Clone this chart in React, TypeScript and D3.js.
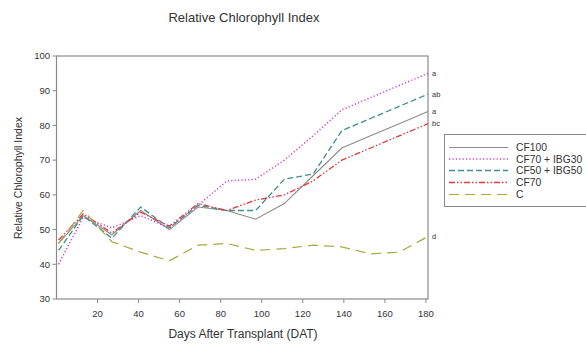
import React from "react";
import * as d3 from "d3";

const days = [1, 13, 27, 41, 55, 69, 83, 97, 111, 125, 139, 153, 167, 181];
const seriesNames = ["CF100", "CF70 + IBG30", "CF50 + IBG50", "CF70", "C"];
const cf100 = [46, 54, 48.5, 55.5, 50, 56.5, 55.5, 53, 57.5, 65.5, 73.5, 77, 80.5, 84];
const cf70ibg30 = [40, 53.5, 50.5, 54, 50.5, 57, 64, 64.5, 70, 77, 84.5, 88, 91.5, 95];
const cf50ibg50 = [44, 54, 47.5, 56.5, 50.5, 57, 55.5, 55.5, 64.5, 66, 78.5, 82, 85.5, 89];
const cf70 = [47, 54.5, 49, 55, 51, 57.5, 55.5, 58.5, 60, 64, 70, 73.5, 77, 80.5];
const control = [46, 55.5, 46.5, 43.5, 41, 45.5, 46, 44, 44.5, 45.5, 45, 43, 43.5, 48];
const letterLabels = ["a", "ab", "a", "bc", "d"];
const xTicks = [20, 40, 60, 80, 100, 120, 140, 160, 180];
const yTicks = [30, 40, 50, 60, 70, 80, 90, 100];

const styles = [
  { color: "#8c8c8c", dash: "none", w: 1.1 },
  { color: "#d040c8", dash: "1.2,2.2", w: 1.5 },
  { color: "#3f8f8f", dash: "6,3", w: 1.3 },
  { color: "#e03a3a", dash: "6,2,1.5,2,1.5,2", w: 1.3 },
  { color: "#a8a840", dash: "10,6", w: 1.2 },
];

export default function App() {
  const W = 586, H = 346;
  const x = d3.scaleLinear().domain([0, 181]).range([56.5, 428]);
  const y = d3.scaleLinear().domain([30, 100]).range([299, 56]);
  const data = [cf100, cf70ibg30, cf50ibg50, cf70, control];
  const line = d3.line<number>().x((_, i) => x(days[i])).y((v) => y(v));
  const font = "'Liberation Sans', Arial, sans-serif";
  const txt = "#333";
  const axisC = "#8a8a8a";
  const letterOrder = [1, 2, 0, 3, 4];
  const legendY = [147.5, 159, 170.5, 182.5, 194.5];

  return (
    <svg width={W} height={H} style={{ position: "absolute", left: 0, top: 0, background: "#fff" }} fontFamily={font}>
      <rect x={0} y={0} width={W} height={H} fill="#fff" />
      <text x={244} y={21.5} textAnchor="middle" fontSize={13} fill={txt}>Relative Chlorophyll Index</text>
      <rect x={x(0)} y={y(100)} width={x(181) - x(0)} height={y(30) - y(100)} fill="none" stroke={axisC} strokeWidth={1.2} />
      {yTicks.map((t) => (
        <g key={"y" + t}>
          <line x1={x(0) - 4} x2={x(0)} y1={y(t)} y2={y(t)} stroke={axisC} />
          <text x={x(0) - 6.5} y={y(t) + 3.3} textAnchor="end" fontSize={9.5} fill={txt}>{t}</text>
        </g>
      ))}
      {xTicks.map((t) => (
        <g key={"x" + t}>
          <line x1={x(t)} x2={x(t)} y1={y(30)} y2={y(30) + 4} stroke={axisC} />
          <text x={x(t)} y={y(30) + 17.5} textAnchor="middle" fontSize={9.5} fill={txt}>{t}</text>
        </g>
      ))}
      <text x={243} y={337.5} textAnchor="middle" fontSize={12} fill={txt}>Days After Transplant (DAT)</text>
      <text transform={`translate(22,178) rotate(-90)`} textAnchor="middle" fontSize={10.5} fill={txt}>Relative Chlorophyll Index</text>
      {data.map((d, i) => (
        <path key={i} d={line(d) || ""} fill="none" stroke={styles[i].color} strokeWidth={styles[i].w} strokeDasharray={styles[i].dash} />
      ))}
      {letterOrder.map((si, k) => (
        <text key={"l" + k} x={432} y={y(data[si][data[si].length - 1]) + 2.5} fontSize={7.5} fill={txt}>{letterLabels[k]}</text>
      ))}
      <rect x={444.5} y={134.5} width={160} height={72} fill="#fff" stroke={axisC} strokeWidth={1} />
      {seriesNames.map((n, i) => (
        <g key={n}>
          <line x1={449} x2={508} y1={legendY[i]} y2={legendY[i]} stroke={styles[i].color} strokeWidth={styles[i].w} strokeDasharray={styles[i].dash} />
          <text x={516} y={legendY[i] + 3.7} fontSize={10.3} fill={txt}>{n}</text>
        </g>
      ))}
    </svg>
  );
}
